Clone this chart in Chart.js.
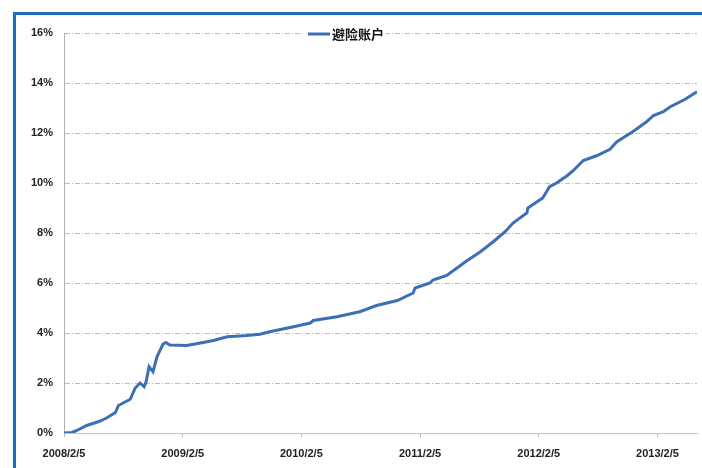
<!DOCTYPE html>
<html>
<head>
<meta charset="utf-8">
<script src="https://cdn.jsdelivr.net/npm/chart.js@4"></script>
<style>
  html, body { margin: 0; padding: 0; background: #fff; overflow: hidden; }
  #wrap { position: relative; width: 702px; height: 468px; }
  #frame { position: absolute; left: 13px; top: 12px; width: 800px; height: 600px;
           border: 3px solid #1b6cc3; pointer-events: none; }
  canvas { position: absolute; left: 0; top: 0; }
</style>
</head>
<body>
<div id="wrap">
  <canvas id="chart" width="702" height="468"></canvas>
  <div id="frame"></div>
</div>
<script>
// months since 2008/2/5
let months = [0, 0.8, 1.3, 2.3, 3.6, 4.3, 5.2, 5.5, 6.7, 7.2, 7.7, 8.1, 8.3, 8.6, 9.0, 9.4, 10.0, 10.3, 10.7,
    12.4, 13.8, 15.1, 16.5, 18.5, 19.8, 20.8, 23.2, 24.9, 25.2, 27.6, 29.9, 31.6, 33.7, 35.3, 35.5,
    37.0, 37.3, 38.7, 40.7, 42.1, 43.4, 44.6, 45.4, 46.8, 46.9, 48.4, 49.1, 49.8, 50.9, 51.5, 52.5,
    53.9, 55.2, 55.9, 57.5, 58.9, 59.6, 60.6, 61.3, 62.8, 64.0];
// 避险账户 cumulative return, %
let hedge = [0, 0.02, 0.1, 0.3, 0.47, 0.6, 0.82, 1.1, 1.35, 1.8, 2.0, 1.85, 2.05, 2.65, 2.45, 3.05, 3.55, 3.62, 3.52,
    3.5, 3.6, 3.7, 3.85, 3.9, 3.95, 4.05, 4.25, 4.4, 4.5, 4.65, 4.85, 5.1, 5.3, 5.6, 5.8,
    6.0, 6.12, 6.3, 6.88, 7.25, 7.65, 8.05, 8.4, 8.8, 9.0, 9.4, 9.85, 10.0, 10.3, 10.5, 10.9,
    11.1, 11.35, 11.65, 12.05, 12.45, 12.7, 12.85, 13.05, 13.35, 13.65];
let yearLabels = ['2008/2/5', '2009/2/5', '2010/2/5', '2011/2/5', '2012/2/5', '2013/2/5'];
let seriesName = '避险账户';

let tickFont = { family: 'Liberation Sans', size: 11, weight: 'bold' };

// legend drawn over the top gridline, like the original
const topLegend = {
    id: 'topLegend',
    afterDraw(chart) {
        let ctx = chart.ctx;
        let ds = chart.data.datasets[0];
        let y = chart.chartArea.top + 1;
        ctx.save();
        ctx.font = 'bold 13px "Noto Sans CJK SC"';
        let w = ctx.measureText(ds.label).width;
        let x0 = 308;
        ctx.fillStyle = '#fff';
        ctx.fillRect(x0 - 2, y - 8, 27 + w, 16);
        ctx.strokeStyle = ds.borderColor;
        ctx.lineWidth = 3;
        ctx.beginPath();
        ctx.moveTo(x0, y);
        ctx.lineTo(x0 + 22, y);
        ctx.stroke();
        ctx.fillStyle = '#111';
        ctx.textBaseline = 'middle';
        ctx.fillText(ds.label, x0 + 24, y);
        ctx.restore();
    }
};

let chart = new Chart(document.getElementById('chart'), {
    type: 'line',
    data: {
        datasets: [{
            label: seriesName,
            data: months.map((m, i) => ({ x: m, y: hedge[i] })),
            borderColor: '#3b6fb6',
            borderWidth: 3,
            pointRadius: 0,
            tension: 0,
            fill: false
        }]
    },
    options: {
        responsive: false,
        animation: false,
        layout: { padding: { top: 33, right: 5, left: 0, bottom: 0 } },
        plugins: { legend: { display: false }, tooltip: { enabled: false } },
        scales: {
            x: {
                type: 'linear',
                min: 0,
                max: 64,
                afterFit: s => { s.height = 35; },
                ticks: {
                    stepSize: 12,
                    includeBounds: false,
                    maxRotation: 0,
                    padding: 10,
                    color: '#222',
                    font: tickFont,
                    callback: v => yearLabels[v / 12]
                },
                grid: { drawOnChartArea: false, tickLength: 4, color: '#bbb' },
                border: { color: '#c4c4c4', width: 1 }
            },
            y: {
                min: 0,
                max: 16,
                afterFit: s => { s.width = 64; },
                ticks: {
                    stepSize: 2,
                    padding: 11,
                    color: '#222',
                    font: tickFont,
                    callback: v => v + '%'
                },
                grid: { drawTicks: false, color: '#bdbdbd', lineWidth: 1 },
                border: { color: '#b0b0b0', width: 1, dash: [5, 2, 1, 2] }
            }
        }
    },
    plugins: [topLegend]
});
</script>
</body>
</html>
